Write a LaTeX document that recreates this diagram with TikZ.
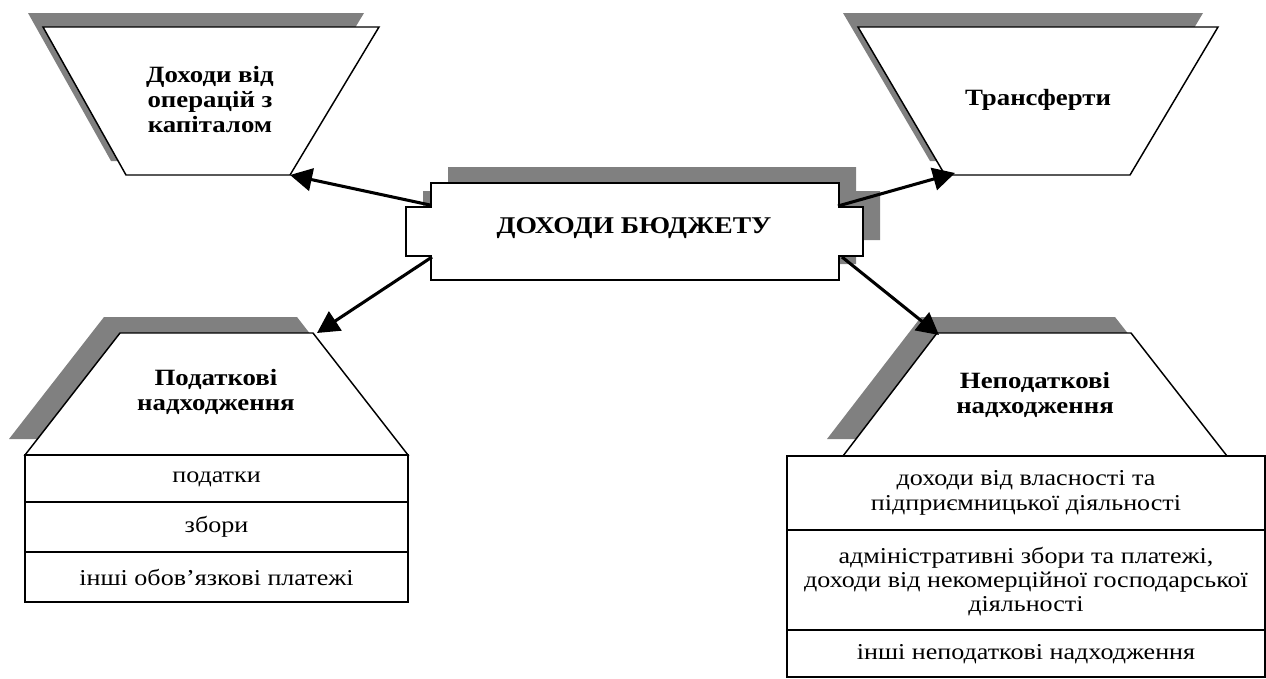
\documentclass[tikz,border=0pt]{standalone}
\usepackage{fontspec}
\setmainfont{Liberation Serif}[FakeStretch=1.15]
\usetikzlibrary{arrows.meta}
\definecolor{shadowgrey}{HTML}{808080}
\begin{document}
\begin{tikzpicture}[x=0.75pt,y=-0.75pt,
  shade/.style={fill=shadowgrey,draw=none},
  shapebox/.style={fill=white,draw=black,line width=1.1pt,line join=miter},
  title/.style={font=\fontsize{17.5}{18.75}\selectfont\bfseries,align=center,inner sep=0pt},
  item/.style={font=\fontsize{17}{18}\selectfont,align=center,inner sep=0pt},
  link/.style={line width=2.3pt,-{Triangle[length=16.5pt,width=17pt]}}]
\useasboundingbox (0,0) rectangle (1266,678);

% --- top left: capital operations ---
\fill[shade] (28,13) -- (364,13) -- (275,161) -- (111,161) -- cycle;
\draw[shapebox] (43,27) -- (379,27) -- (290,175) -- (126,175) -- cycle;
\node[title] (capital) at (210,100) {Доходи від\\операцій з\\капіталом};
\coordinate (capitalIn) at (290,175);

% --- top right: transfers ---
\fill[shade] (843,13) -- (1203,13) -- (1115,161) -- (930,161) -- cycle;
\draw[shapebox] (858,27) -- (1218,27) -- (1130,175) -- (945,175) -- cycle;
\node[title] (transfers) at (1038,100) {Трансферти};
\coordinate (transfersIn) at (955,173);

% --- centre: budget revenues ---
\fill[shade] (448,167) -- (856,167) -- (856,191) -- (880,191) -- (880,240)
  -- (856,240) -- (856,264) -- (448,264) -- (448,240) -- (423,240)
  -- (423,191) -- (448,191) -- cycle;
\draw[shapebox] (431,183) -- (839,183) -- (839,207) -- (863,207) -- (863,256)
  -- (839,256) -- (839,280) -- (431,280) -- (431,256) -- (406,256)
  -- (406,207) -- (431,207) -- cycle;
\node[title,font=\fontsize{18}{20}\selectfont\bfseries] (budget) at (634,228) {ДОХОДИ БЮДЖЕТУ};
\coordinate (budgetNW) at (430,205);
\coordinate (budgetSW) at (432,257);
\coordinate (budgetNE) at (838,206);
\coordinate (budgetSE) at (842,257);

% --- bottom left: tax receipts ---
\fill[shade] (104,317) -- (297,317) -- (392,439) -- (9,439) -- cycle;
\draw[shapebox] (120,333) -- (313,333) -- (408,455) -- (25,455) -- cycle;
\node[title] (tax) at (216,392) {Податкові\\надходження};
\coordinate (taxIn) at (317,333);
\draw[shapebox] (25,455) rectangle (408,602);
\draw[line width=1.1pt] (25,502) -- (408,502);
\draw[line width=2.2pt] (25,552) -- (408,552);
\node[item] (taxA) at (216.5,479) {податки};
\node[item] (taxB) at (216.5,527) {збори};
\node[item] (taxC) at (216.5,577) {інші обов’язкові платежі};

% --- bottom right: non-tax receipts ---
\fill[shade] (921,317) -- (1115,317) -- (1211,439) -- (827,439) -- cycle;
\draw[shapebox] (937,333) -- (1131,333) -- (1227,456) -- (843,456) -- cycle;
\node[title] (nontax) at (1035,395) {Неподаткові\\надходження};
\coordinate (nontaxIn) at (939,335);
\draw[shapebox] (787,456) rectangle (1265,677);
\draw[line width=1.1pt] (787,530) -- (1265,530);
\draw[line width=1.1pt] (787,630) -- (1265,630);
\node[item,font=\fontsize{17}{18.75}\selectfont] (nontaxA) at (1026,493) {доходи від власності та\\підприємницької діяльності};
\node[item] (nontaxB) at (1026,582) {адміністративні збори та платежі,\\доходи від некомерційної господарської\\діяльності};
\node[item] (nontaxC) at (1026,654) {інші неподаткові надходження};

% --- connectors ---
\draw[link] (budgetNW) -- (capitalIn);
\draw[link] (budgetNE) -- (transfersIn);
\draw[link] (budgetSW) -- (taxIn);
\draw[link] (budgetSE) -- (nontaxIn);
\end{tikzpicture}
\end{document}
